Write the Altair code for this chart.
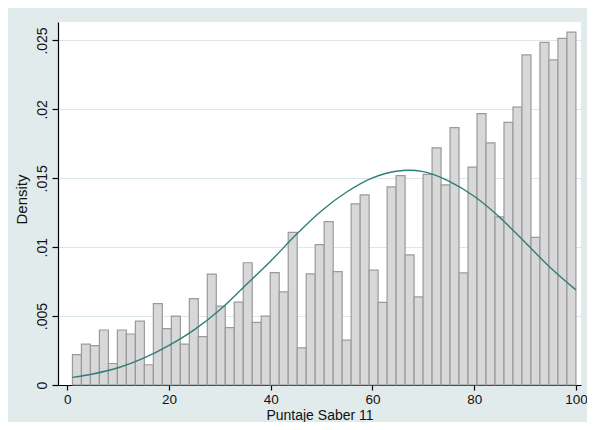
import altair as alt
import pandas as pd

# Histogram bar heights (density), 56 bins from 1 to 100
bar_density = [
    0.00221, 0.00296, 0.00286, 0.00399, 0.00156, 0.00399, 0.00370, 0.00464,
    0.00147, 0.00591, 0.00409, 0.00500, 0.00296, 0.00627, 0.00351, 0.00805,
    0.00572, 0.00416, 0.00601, 0.00887, 0.00454, 0.00500, 0.00815, 0.00676,
    0.01108, 0.00270, 0.00806, 0.01018, 0.01185, 0.00823, 0.00325, 0.01315,
    0.01379, 0.00833, 0.00600, 0.01437, 0.01519, 0.00944, 0.00639, 0.01529,
    0.01721, 0.01452, 0.01868, 0.00813, 0.01581, 0.01969, 0.01757, 0.01220,
    0.01906, 0.02017, 0.02395, 0.01071, 0.02486, 0.02359, 0.02515, 0.02561,
]
bin_low = 1
bin_high = 100

# Normal density overlay
curve_x = [1, 5, 10, 15, 20, 25, 30, 35, 40, 45, 50, 55, 60, 65, 67, 70, 75, 80, 85, 90, 95, 100]
curve_y = [0.00055, 0.00080, 0.00125, 0.00195, 0.00288, 0.00402, 0.00546, 0.00722,
           0.00900, 0.01092, 0.01265, 0.01402, 0.01503, 0.01553, 0.01558, 0.01548,
           0.01480, 0.01370, 0.01218, 0.01035, 0.00851, 0.00690]

x_ticks = [0, 20, 40, 60, 80, 100]
y_ticks = [0, 0.005, 0.01, 0.015, 0.02, 0.025]

n_bins = len(bar_density)
bw = (bin_high - bin_low) / n_bins
bars = pd.DataFrame({
    "x0": [bin_low + i * bw for i in range(n_bins)],
    "x1": [bin_low + (i + 1) * bw for i in range(n_bins)],
    "density": bar_density,
})
curve = pd.DataFrame({"score": curve_x, "density": curve_y})

FONT = "Liberation Sans"
xscale = alt.Scale(domain=[-1.84, 101.0], nice=False, zero=False)
yscale = alt.Scale(domain=[0, 0.02634], nice=False)

x_axis = alt.Axis(
    values=x_ticks, grid=False, tickSize=5, tickColor="#000000", tickWidth=1.2,
    domainColor="#000000", domainWidth=1.2,
    labelFont=FONT, labelFontSize=13.5, labelColor="#111111", labelPadding=2,
    title="Puntaje Saber 11", titleFont=FONT, titleFontSize=14,
    titleFontWeight="normal", titleColor="#111111",
    titleBaseline="alphabetic", titleY=34.5,
)
y_axis = alt.Axis(
    values=y_ticks, grid=True, gridColor="#DCE7E7", gridWidth=1.2,
    tickSize=6, tickColor="#000000", tickWidth=1.2,
    domainColor="#000000", domainWidth=1.2,
    labelExpr="datum.value == 0 ? '0' : slice(format(datum.value, '.3~f'), 1)",
    labelAngle=270, labelAlign="center", labelBaseline="alphabetic",
    labelFont=FONT, labelFontSize=14, labelColor="#111111", labelPadding=5.5,
    title="Density", titleFont=FONT, titleFontSize=15, titleFontWeight="normal",
    titleColor="#111111", titleAngle=270, titleAlign="center",
    titleBaseline="alphabetic", titleX=-31.6, titleY=177,
)

bar_layer = alt.Chart(bars).mark_bar(
    fill="#D8D8D8", stroke="#9A9A9A", strokeWidth=1.2
).encode(
    x=alt.X("x0:Q", scale=xscale, axis=x_axis),
    x2="x1:Q",
    y=alt.Y("density:Q", scale=yscale, axis=y_axis),
    y2=alt.datum(0),
)

line_layer = alt.Chart(curve).mark_line(
    color="#2E7E78", strokeWidth=1.4, interpolate="monotone"
).encode(
    x=alt.X("score:Q", scale=xscale),
    y=alt.Y("density:Q", scale=yscale),
)

chart = alt.layer(bar_layer, line_layer).properties(
    width=523,
    height=363,
    autosize=alt.AutoSizeParams(type="none"),
    padding={"left": 50, "top": 14, "right": 6, "bottom": 37},
    background="#E1EBEB",
).configure_view(fill="#FFFFFF", stroke=None)

chart.save("out.html", embed_options={"renderer": "svg", "actions": False})
